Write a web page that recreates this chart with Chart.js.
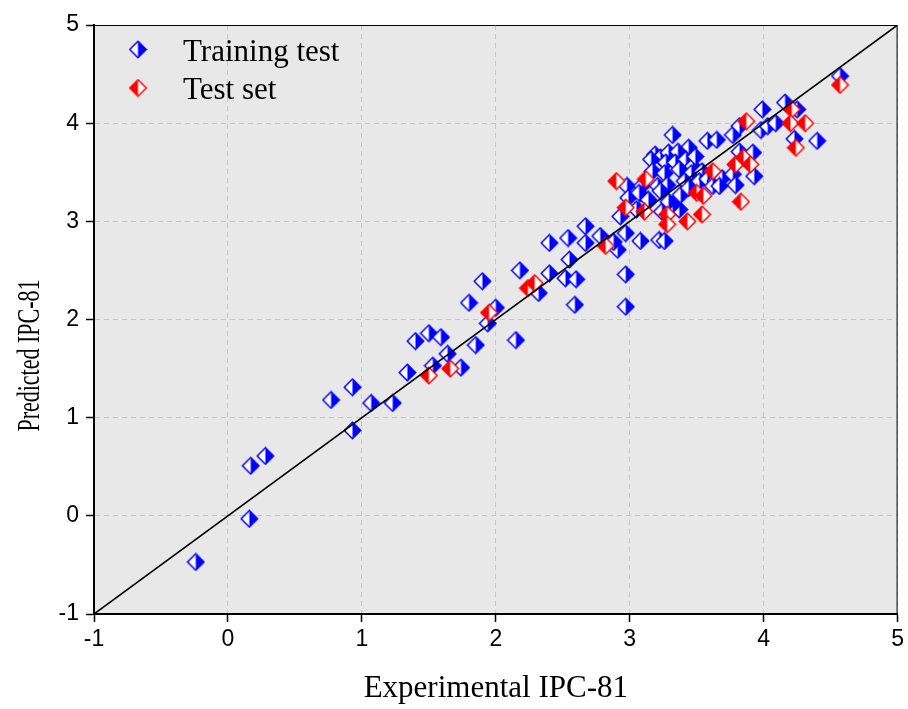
<!DOCTYPE html>
<html>
<head>
<meta charset="utf-8">
<script src="https://cdn.jsdelivr.net/npm/chart.js@4.4.1/dist/chart.umd.min.js"></script>
<style>
  html, body { margin: 0; padding: 0; background: #ffffff; }
  #wrap { width: 908px; height: 709px; position: relative; }
  canvas { display: block; }
</style>
</head>
<body>
<div id="wrap"><canvas id="c" width="908" height="709"></canvas></div>
<script>
// ---- data ----
const seriesNames = ['Training test', 'Test set'];
const axisTicks = [-1, 0, 1, 2, 3, 4, 5];
const xTitle = 'Experimental IPC-81';
const yTitle = 'Predicted IPC-81';

const trainX = [-0.24, 0.16, 0.17, 0.28, 0.77, 0.93, 0.93, 1.07, 1.23, 1.34, 1.40, 1.50, 1.59, 1.53, 1.64, 1.74, 1.85, 1.80, 1.90, 2.00, 1.94, 2.18, 2.15, 2.32, 2.40, 2.54, 2.67, 2.67, 2.55, 2.40, 2.52, 2.60, 2.59, 2.78, 2.91, 2.88, 2.97, 2.93, 2.98, 2.97, 2.97, 3.08, 3.22, 3.26, 3.13, 3.24, 3.37, 3.32, 3.05, 3.32, 3.44, 3.19, 3.23, 3.29, 3.36, 3.16, 3.27, 3.34, 3.42, 3.47, 3.49, 3.17, 3.26, 3.37, 3.46, 3.54, 3.09, 3.21, 3.28, 3.41, 3.52, 3.58, 3.64, 3.62, 2.99, 3.07, 3.14, 3.23, 3.29, 3.38, 3.44, 3.58, 3.65, 3.77, 3.82, 3.82, 3.92, 3.93, 3.69, 3.77, 3.79, 3.67, 3.99, 3.98, 4.03, 4.09, 4.16, 4.25, 4.23, 4.40, 4.57];
const trainY = [-0.47, -0.03, 0.51, 0.61, 1.18, 1.31, 0.87, 1.15, 1.15, 1.46, 1.78, 1.86, 1.82, 1.53, 1.65, 1.51, 1.74, 2.17, 2.39, 2.12, 1.96, 2.50, 1.79, 2.27, 2.78, 2.83, 2.95, 2.78, 2.61, 2.47, 2.42, 2.41, 2.15, 2.85, 2.71, 2.79, 2.88, 3.05, 3.36, 2.46, 2.13, 2.80, 2.81, 2.80, 3.19, 3.10, 3.12, 3.17, 3.12, 3.88, 3.75, 3.68, 3.65, 3.70, 3.71, 3.63, 3.60, 3.60, 3.63, 3.56, 3.66, 3.51, 3.49, 3.53, 3.49, 3.51, 3.36, 3.36, 3.37, 3.41, 3.41, 3.43, 3.41, 3.36, 3.24, 3.29, 3.22, 3.31, 3.20, 3.27, 3.34, 3.82, 3.83, 3.88, 3.97, 3.71, 3.70, 3.46, 3.44, 3.48, 3.37, 3.36, 4.14, 3.93, 3.97, 4.00, 4.21, 4.14, 3.84, 3.82, 4.48];

const testX = [1.50, 1.66, 1.95, 2.24, 2.29, 2.82, 2.90, 2.97, 3.11, 3.12, 3.28, 3.28, 3.43, 3.54, 3.50, 3.55, 3.62, 3.83, 3.79, 3.85, 3.90, 3.87, 4.21, 4.20, 4.31, 4.24, 4.57];
const testY = [1.43, 1.50, 2.07, 2.32, 2.37, 2.75, 3.41, 3.14, 3.10, 3.43, 3.07, 2.97, 3.00, 3.07, 3.29, 3.26, 3.51, 3.20, 3.58, 3.65, 3.58, 4.02, 4.14, 4.00, 4.00, 3.75, 4.39];

const diagX = [-1, 5];
const diagY = [-1, 5];

// ---- half-filled diamond marker ----
function makeMarker(color, side) {
  const s = 19, c = 9.5, r = 8.2;
  const cv = document.createElement('canvas');
  cv.width = s; cv.height = s;
  const g = cv.getContext('2d');
  const diamond = () => {
    g.beginPath();
    g.moveTo(c, c - r); g.lineTo(c + r, c); g.lineTo(c, c + r); g.lineTo(c - r, c); g.closePath();
  };
  diamond(); g.fillStyle = '#ffffff'; g.fill();
  g.beginPath();
  if (side === 'right') { g.moveTo(c, c - r); g.lineTo(c + r, c); g.lineTo(c, c + r); }
  else { g.moveTo(c, c - r); g.lineTo(c - r, c); g.lineTo(c, c + r); }
  g.closePath(); g.fillStyle = color; g.fill();
  diamond(); g.strokeStyle = color; g.lineWidth = 1.5; g.stroke();
  return cv;
}
const blueMarker = makeMarker('#0000ff', 'right');
const redMarker = makeMarker('#ff0000', 'left');

const zip = (xs, ys) => xs.map((v, i) => ({ x: v, y: ys[i] }));

const plotDecor = {
  id: 'plotDecor',
  beforeDraw(chart) {
    const { ctx, chartArea: a } = chart;
    ctx.save();
    ctx.fillStyle = '#e8e8e8';
    ctx.fillRect(a.left, a.top, a.right - a.left, a.bottom - a.top);
    ctx.restore();
  },
  afterDraw(chart) {
    const { ctx, chartArea: a } = chart;
    ctx.save();
    ctx.strokeStyle = '#000';
    ctx.lineWidth = 1;
    ctx.beginPath();
    ctx.moveTo(a.left, a.top + 0.5); ctx.lineTo(a.right - 0.5, a.top + 0.5); ctx.lineTo(a.right - 0.5, a.bottom);
    ctx.stroke();
    // legend
    const imgs = [blueMarker, redMarker];
    ctx.font = '31px "Liberation Serif"';
    ctx.fillStyle = '#000';
    ctx.textBaseline = 'alphabetic';
    ctx.textAlign = 'left';
    seriesNames.forEach((name, i) => {
      const cy = a.top + 24.5 + i * 38.5;
      ctx.drawImage(imgs[i], a.left + 44 - 9.5, cy - 9.5);
      ctx.fillText(name, a.left + 89, cy + 11);
    });
    // y axis title (drawn condensed, as in the reference)
    ctx.translate(31, (a.top + a.bottom) / 2 + 36);
    ctx.rotate(-Math.PI / 2);
    ctx.scale(0.71, 1);
    ctx.textAlign = 'center';
    ctx.textBaseline = 'middle';
    ctx.fillText(yTitle, 0, 0);
    ctx.restore();
  }
};

const tickFont = { family: '"Liberation Sans", Arial, sans-serif', size: 23 };

const axisCommon = (title, isY) => ({
  type: 'linear',
  min: axisTicks[0],
  max: axisTicks[axisTicks.length - 1],
  afterBuildTicks: (s) => { s.ticks = axisTicks.map(v => ({ value: v })); },
  ticks: {
    color: '#000',
    font: tickFont,
    padding: isY ? 7 : 4,
    callback: (v) => String(v)
  },
  grid: {
    color: '#c6c6c6',
    lineWidth: 1,
    drawTicks: true,
    tickLength: 8,
    tickColor: '#000',
    tickWidth: 1.5
  },
  border: { display: true, color: '#000', width: 2, dash: [5, 4] },
  title: {
    display: !isY,
    text: title,
    color: '#000',
    font: { family: 'Liberation Serif', size: 31 },
    padding: { top: 0, bottom: 2 }
  },
  afterFit: (s) => { if (isY) s.width = 94; else s.height = 95; }
});

new Chart(document.getElementById('c'), {
  type: 'scatter',
  data: {
    datasets: [
      {
        type: 'line',
        label: 'y = x',
        data: zip(diagX, diagY),
        borderColor: '#000',
        borderWidth: 1.6,
        pointRadius: 0,
        fill: false
      },
      {
        label: seriesNames[1],
        data: zip(testX, testY),
        pointStyle: redMarker,
        pointRadius: 8,
        pointHoverRadius: 8
      },
      {
        label: seriesNames[0],
        data: zip(trainX, trainY),
        pointStyle: blueMarker,
        pointRadius: 8,
        pointHoverRadius: 8
      }
    ]
  },
  options: {
    responsive: false,
    animation: false,
    devicePixelRatio: 1,
    layout: { padding: { top: 25, right: 9, left: 0, bottom: 0 } },
    plugins: { legend: { display: false }, tooltip: { enabled: false } },
    scales: {
      x: axisCommon(xTitle, false),
      y: axisCommon(yTitle, true)
    }
  },
  plugins: [plotDecor]
});
</script>
</body>
</html>
